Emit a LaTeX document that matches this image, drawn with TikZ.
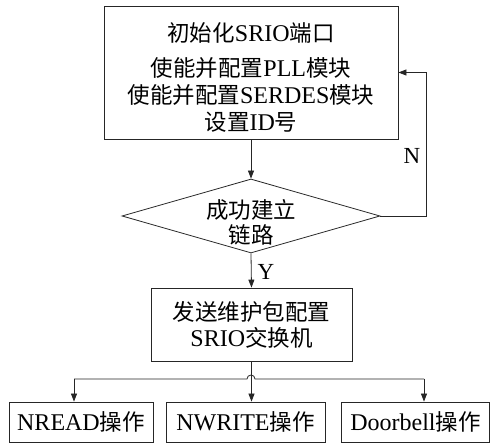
\documentclass[tikz,border=0pt]{standalone}
\usepackage{fontspec}
\setmainfont{Liberation Serif}
\newfontfamily\cjk{Noto Sans CJK SC}
\usetikzlibrary{shapes.geometric,arrows.meta}
\newcommand\zh[1]{{\cjk\fontsize{22.5}{27}\selectfont #1}}
\tikzset{
  ln/.style={line width=0.8pt, draw=black!85},
  arr/.style={ln, -{Triangle[length=8pt,width=6pt]}},
  box/.style={ln, rectangle, inner sep=0pt, align=center, font=\fontsize{24}{26}\selectfont},
  txt/.style={inner sep=0pt, align=center, font=\fontsize{24}{27}\selectfont},
  lbl/.style={inner sep=0pt, font=\fontsize{23}{26}\selectfont},
}
\begin{document}
\begin{tikzpicture}[x=1pt,y=-1pt]
\useasboundingbox (0,0) rectangle (491,443);
\node[box, minimum width=294pt, minimum height=133pt] (init) at (251,72.5) {};
\node[txt] (initt) at (251,77)
  {\zh{初始化}SRIO\zh{端口}\\[8pt]\zh{使能并配置}PLL\zh{模块}\\\zh{使能并配置}SERDES\zh{模块}\\\zh{设置}ID\zh{号}};
\node[ln, diamond, inner sep=0pt, minimum width=258pt, minimum height=74pt] (dia) at (251,216) {};
\node[txt, font=\fontsize{24}{25}\selectfont] (diat) at (251,222) {\zh{成功建立}\\\zh{链路}};
\node[box, minimum width=201pt, minimum height=73pt] (send) at (251.5,324.5)
  {\zh{发送维护包配置}\\SRIO\zh{交换机}};
\node[box, minimum width=144pt, minimum height=40pt] (nr) at (81,422) {NREAD\zh{操作}};
\node[box, minimum width=159pt, minimum height=40pt] (nw) at (245.5,422) {NWRITE\zh{操作}};
\node[box, minimum width=148pt, minimum height=40pt] (db) at (415.5,422) {Doorbell\zh{操作}};

\draw[arr] (init.south) -- (dia.north);
\coordinate (nc) at (426,216);
\draw[arr] (dia.east) -- (nc) |- (init.east);
\node[lbl] (nlab) at (412,156) {N};
\draw[arr] (dia.south) -- (send.north);
\node[lbl] (ylab) at (266,272) {Y};

\coordinate (j1) at (74,379);
\coordinate (j2) at (251,379);
\coordinate (j3) at (424,379);
\draw[ln] (j1) -- (247,379) arc[start angle=180,end angle=0,radius=4pt] -- (j3);
\draw[arr] (send.south) -- (send.south |- nw.north);
\draw[arr] (j1) -- (j1 |- nr.north);
\draw[arr] (j3) -- (j3 |- db.north);
\end{tikzpicture}
\end{document}
